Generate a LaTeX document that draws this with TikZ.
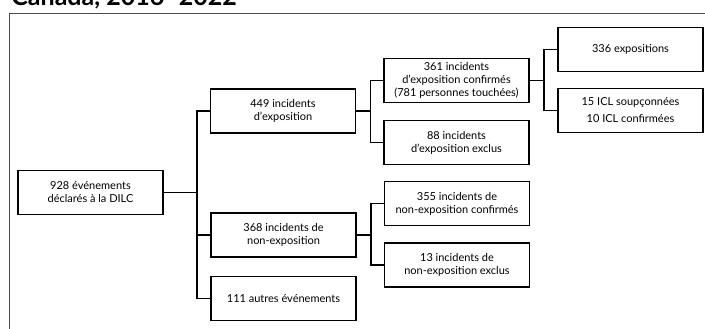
\documentclass[tikz,border=0pt]{standalone}
\usepackage{fontspec}
\setmainfont{Lato}
\begin{document}
\begin{tikzpicture}[x=1pt, y=1pt, thick,
    every node/.style={font=\fontsize{11}{13}\selectfont},
    box/.style={draw, line width=1.5pt, minimum width=145pt, minimum height=44pt, align=center, inner sep=1pt},
    link/.style={line width=1.5pt}]
  \clip (0,0) rectangle (705,329);
  % cut-off title and frame
  \node[anchor=base west, inner sep=0pt, font=\fontsize{25}{28}\bfseries\selectfont] (title) at (11,323.5) {Canada, 2016--2022};
  \draw[gray!60!black, line width=0.8pt] (9,0) -- (9,316) -- (705,316);
  % boxes
  \node[box] (root) at (90.5,136.5) {928 événements\\déclarés à la DILC};
  \node[box] (exp) at (283,218) {449 incidents\\d’exposition};
  \node[box] (nonexp) at (283.5,94) {368 incidents de\\non-exposition};
  \node[box] (autres) at (283.5,30.5) {111 autres événements};
  \node[box] (expconf) at (456.5,248.5) {361 incidents\\d’exposition confirmés\\(781 personnes touchées)};
  \node[box] (expexcl) at (456.5,186.5) {88 incidents\\d’exposition exclus};
  \node[box] (nonconf) at (457,125.5) {355 incidents de\\non-exposition confirmés};
  \node[box] (nonexcl) at (457,64) {13 incidents de\\non-exposition exclus};
  \node[box] (expos) at (630.5,279.5) {336 expositions};
  \node[box] (icl) at (630.5,218.5) {15 ICL soupçonnées\\[4pt]10 ICL confirmées};
  % connectors
  \draw[link] (root.east) -- ++(33,0) coordinate (trunk);
  \foreach \n in {exp, nonexp, autres} \draw[link] (trunk) |- (\n.west);
  \draw[link] (exp.east) -- ++(14,0) coordinate (expfork);
  \foreach \n in {expconf, expexcl} \draw[link] (expfork) |- (\n.west);
  \draw[link] (expconf.east) -- ++(14,0) coordinate (conffork);
  \foreach \n in {expos, icl} \draw[link] (conffork) |- (\n.west);
  \draw[link] (nonexp.east) -- ++(14,0) coordinate (nonfork);
  \foreach \n in {nonconf, nonexcl} \draw[link] (nonfork) |- (\n.west);
\end{tikzpicture}
\end{document}
